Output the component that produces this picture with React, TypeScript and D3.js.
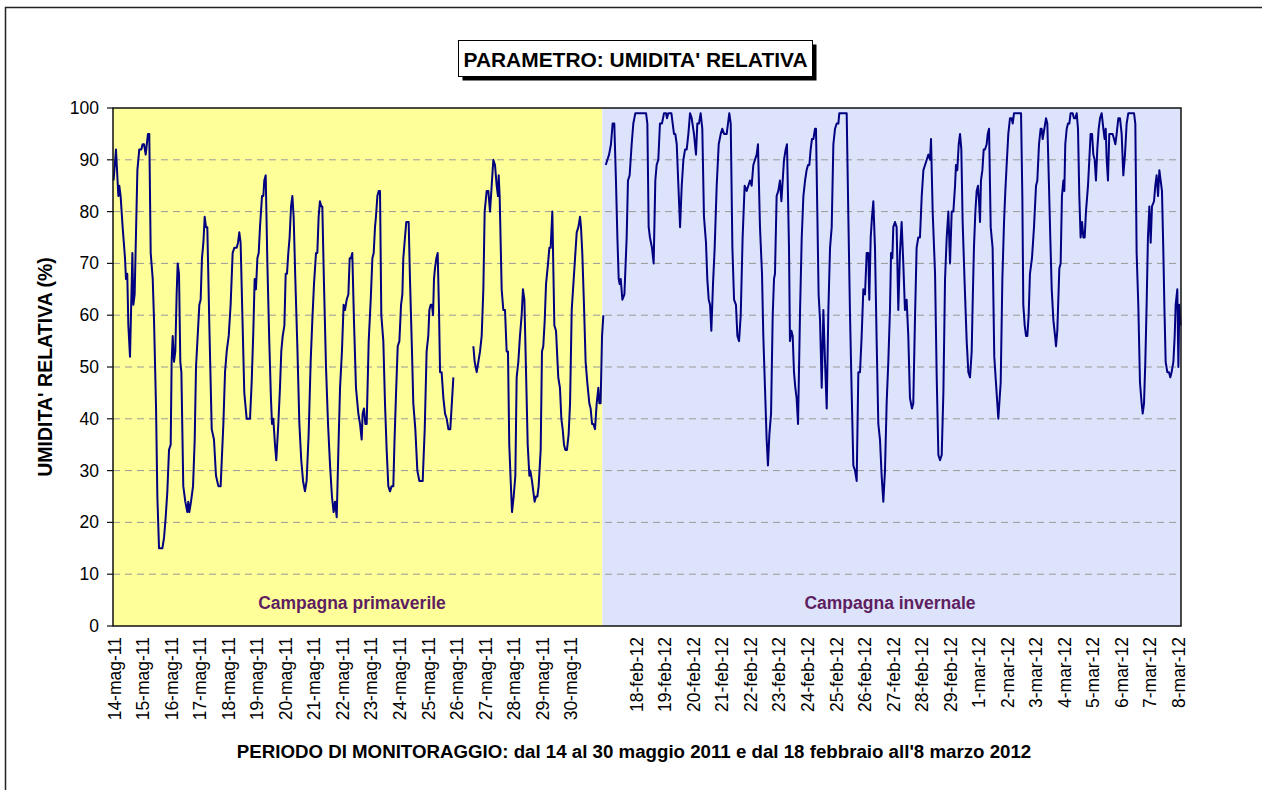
import React from 'react';
import * as d3 from 'd3';

// ---------- DATA ----------
const yTickValues = [0, 10, 20, 30, 40, 50, 60, 70, 80, 90, 100];

const springLabels = ['14-mag-11', '15-mag-11', '16-mag-11', '17-mag-11', '18-mag-11', '19-mag-11', '20-mag-11', '21-mag-11', '22-mag-11', '23-mag-11', '24-mag-11', '25-mag-11', '26-mag-11', '27-mag-11', '28-mag-11', '29-mag-11', '30-mag-11'];
const springLabelHours = [0, 24, 48, 72, 96, 120, 144, 168, 192, 216, 240, 264, 288, 312, 336, 360, 384];

const winterLabels = ['18-feb-12', '19-feb-12', '20-feb-12', '21-feb-12', '22-feb-12', '23-feb-12', '24-feb-12', '25-feb-12', '26-feb-12', '27-feb-12', '28-feb-12', '29-feb-12', '1-mar-12', '2-mar-12', '3-mar-12', '4-mar-12', '5-mar-12', '6-mar-12', '7-mar-12', '8-mar-12'];
const winterLabelHours = [439, 463, 487, 511, 535, 559, 583, 607, 631, 655, 679, 703, 727, 751, 775, 799, 823, 847, 871, 895];

const totalHours = 898;
const springEndHour = 411;

// [hour index, relative humidity %]; null = missing data
const springRH: [number, number | null][] = [
  [0,86],[2,92],[4,83],[4.8,85],[5.9,83],[7.6,77],[9.6,71],[10.4,67],[11.5,68],[12.4,58],[13.8,52],[15.8,72],[16.6,62],[17.7,64],[20,88],[21.6,92],[23.3,92],[24.4,93],[25.6,93],[27,91],[28.9,95],[30,95],[31.2,72],[32.9,67],[34,59],[35.7,42],[36.8,25],[38.2,15],[41,15],[42.4,17],[43.8,21],[45.2,26],[46.6,34],[48,35],[48.8,51],[49.7,56],[50.8,51],[51.9,53],[53,64],[53.9,70],[55,68],[56.1,51],[57,49],[58.6,27],[60.3,24],[62,22],[62.8,24],[63.7,22],[65.1,24],[66.8,27],[68.2,36],[69.3,50],[70.7,56],[72.1,62],[73.2,63],[74.3,71],[75.5,74],[76.6,79],[77.7,77],[78.8,77],[80.5,58],[82.5,38],[84.4,36],[86.1,29],[88.1,27],[90,27],[92.3,39],[93.7,49],[95.1,53],[96.8,56],[98.4,62],[100.1,72],[101.5,73],[103.5,73],[104.6,74],[105.7,76],[106.8,74],[108.5,58],[109.9,45],[111.9,40],[114.7,40],[116.1,47],[117.5,57],[118.6,67],[119.7,65],[120.9,71],[122,72],[123.1,77],[124.8,83],[125.9,83],[126.7,86],[127.9,87],[129.3,70],[130.9,55],[132.3,44],[133.2,39],[134.3,40],[135.7,35],[136.8,32],[138.5,39],[139.9,46],[141,53],[142.2,56],[143.6,58],[144.7,68],[145.8,68],[146.9,72],[148,75],[149.2,81],[150.3,83],[151.4,79],[152.8,67],[154.5,54],[156.2,39],[157.8,32],[159.3,28],[160.9,26],[162.3,28],[164,37],[165.7,51],[167.1,59],[168.5,66],[170.2,72],[171.3,72],[172.4,79],[173.5,82],[174.7,81],[175.5,81],[176.9,66],[178.6,50],[180.3,39],[182,31],[183.6,25],[185,22],[186.2,24],[187.6,21],[189,34],[190.4,46],[192,53],[193.4,62],[194.6,61],[196,63],[197.4,64],[198.5,71],[199.6,71],[200.7,72],[202.1,59],[203.8,46],[205.8,41],[207.2,39],[208.6,36],[209.4,41],[210.5,42],[211.7,39],[212.8,39],[214.5,55],[216.2,63],[217.6,71],[218.7,72],[219.8,77],[220.6,79],[221.8,83],[222.9,84],[224,84],[225.1,60],[226.8,55],[228.2,43],[229.6,34],[231,27],[232.4,26],[233.8,27],[235.2,27],[236.1,35],[237.5,45],[238.9,54],[240.3,55],[241.7,62],[242.8,64],[243.6,71],[245,75],[246.1,78],[248.1,78],[249.2,67],[250.9,53],[252,43],[253.7,38],[255.4,30],[257.1,28],[259.9,28],[261.6,38],[263.2,53],[264.6,56],[265.5,61],[266.6,62],[267.7,62],[268.6,60],[269.4,67],[270.2,69],[271.4,71],[272.5,72],[273.6,61],[274.5,49],[275.8,49],[277.3,44],[278.7,41],[280.1,40],[281.5,38],[283.1,38],[285.7,48],
  [294,null],
  [302.5,54],[303.6,51],[305.3,49],[306.7,51],[308.1,53],[309.5,56],[310.9,65],[312,80],[313.7,84],[315.1,84],[316.5,80],[317.9,85],[319.3,90],[320.7,89],[322.1,85],[323.2,83],[323.8,87],[324.6,83],[326.3,65],[327.7,61],[329.1,61],[330.5,53],[331.6,53],[332.7,35],[333.9,28],[335,22],[336.4,25],[337.8,29],[338.9,48],[340.3,51],[341.7,56],[343.1,60],[344.2,65],[345.4,63],[346.8,49],[348.2,35],[349.6,29],[350.4,30],[351.8,28],[352.9,26],[354,24],[355.2,25],[356.3,25],[357.4,27],[359.1,34],[360.2,53],[361.3,54],[362.5,59],[363.6,66],[365.3,70],[366.4,73],[367.5,73],[368.9,80],[370.6,58],[372,57],[373.9,48],[375.3,46],[376.5,40],[377.6,38],[378.7,35],[379.8,34],[381.2,34],[382.6,37],[383.8,43],[385.2,61],[386.6,66],[388,71],[389.4,76],[390.8,77],[392.2,79],[393,77],[394.1,72],[395.5,62],[396.9,51],[398.3,47],[400,43],[401.1,42],[402.3,39],[403.4,39],[404.8,38],[406.2,43],[407.6,46],[408.4,43],[409.5,43],[410.7,56],[411.8,60]
];

const winterRH: [number, number][] = [
  [413.8,89],[415.2,90],[416.6,91],[418.2,93],[419.6,97],[421,97],[422.4,86],[423.6,75],[424.7,67],[425.5,66],[426.4,67],[427.8,63],[429.5,64],[431.4,75],[432.5,86],[433.9,87],[435.6,93],[437,97],[438.7,99],[447.7,99],[448.8,97],[449.9,77],[451,75],[452.7,73],[454.1,70],[455.5,86],[456.6,89],[458,90],[459.4,97],[461.1,97],[462.8,99],[464.5,99],[465.3,98],[466.4,99],[469,99],[470.1,97],[471.2,95],[472.3,95],[473.5,93],[474.9,85],[476.3,77],[477.7,85],[479.1,90],[480.5,92],[481.9,92],[483.3,95],[484.7,99],[486.1,98],[488,95],[489.7,91],[490.8,97],[492.2,97],[493.6,99],[495,96],[496.4,79],[498.1,74],[499.2,67],[500.4,63],[501.5,62],[502.6,57],[504,66],[505.4,73],[507.1,85],[508.8,93],[510.5,95],[511.8,96],[513.3,95],[515.5,95],[516.6,97],[517.7,99],[518.9,97],[520.3,73],[521.7,63],[523.3,62],[524.5,56],[525.9,55],[527.3,60],[528.9,75],[530.6,85],[532.3,84],[533.7,85],[535.1,86],[536.5,85],[537.9,89],[539.3,90],[540.7,91],[541.8,93],[543.5,77],[545.2,68],[546.3,56],[547.7,46],[549.1,36],[550.2,31],[551.4,37],[552.8,41],[554.2,60],[555.3,67],[556.1,68],[557.5,83],[558.9,84],[560.3,86],[561.5,82],[562.6,86],[563.7,90],[565.1,92],[566.2,93],[567.9,73],[568.7,55],[569.9,57],[571,56],[572.1,49],[573.2,46],[574.3,44],[575.5,39],[577.2,61],[578.6,75],[580,83],[581.4,86],[582.7,88],[583.9,89],[585,89],[586.1,92],[587.2,94],[588.4,94],[589.8,96],[590.6,96],
  [591.7,80],[592.8,64],[594,59],[595.4,46],[596.8,61],[598.2,51],[599.6,42],[601,61],[602.4,73],[603.8,77],[605.2,93],[606.6,96],[608,97],[609.4,97],[610.2,99],[616.4,99],[617.8,79],[619.2,60],[620.6,45],[622,31],[623.4,30],[624.8,28],[626.2,49],[627.6,49],[629,56],[630.4,65],[631.8,64],[633.2,72],[634.6,72],[635.4,63],[636.6,75],[637.7,79],[638.8,82],[640.2,73],[641.6,55],[643,39],[644.4,36],[645.8,29],[647.2,24],[648.6,30],[650,43],[651.4,51],[652.8,61],[653.7,72],[654.8,71],[655.6,77],[657,78],[658.4,77],[659.8,61],[661.2,72],[662.6,78],[664,70],[665.4,61],[666.8,63],[668.2,56],[669.6,44],[671.3,42],[672.4,43],[673.8,59],[675.2,73],[676.6,75],[678,75],[679.5,83],[680.9,88],[682.3,89],[683.7,90],[685.1,91],[686.5,90],[687.3,94],[688.7,80],[690.7,68],[692.1,48],[693.5,33],[694.9,32],[696.3,33],[697.7,45],[699.1,67],[700.5,75],[701.9,80],[703.3,70],[704.7,80],[706.1,80],[707.5,85],[708.3,89],[709.4,88],[710.6,93],[711.7,95],[712.8,92],[713.9,78],[715.6,66],[717.3,55],[718.7,49],[720.1,48],[721.5,53],[722.3,62],[723.4,73],[724.6,80],[725.7,84],[726.8,85],[727.7,82],[728.5,78],[729.3,86],[730.5,88],[731.6,92],[732.7,92],[734.1,93],[735,95],[736.1,96],[737.5,77],[739.1,73],[740.5,52],[741.9,47],[743.9,40],[745.9,47],[747.3,67],[748.7,78],[749.8,84],[750.9,89],[752.3,95],[753.7,98],[755.1,98],[756,97],[757.1,99],[763,99],[764.1,83],[764.9,62],[766.1,58],[767.2,56],[768.3,56],[769.4,60],[770.5,68],[772.2,71],[773.9,77],[775.6,85],[776.7,86],[778.1,93],[779.5,96],[780.3,96],[781.2,94],[782.6,96],[784,98],[785.1,97],[786.5,85],[787.6,75],[788.8,65],[790.2,59],[791.6,56],[792.4,54],[793.5,57],[795.2,69],[796.3,70],[797.4,83],[798.6,86],[799.4,84],[800.2,93],[801.4,96],[802.5,97],[803.6,97],[804.7,99],[806.4,99],[807.5,98],[808.7,98],[809.8,99],[810.9,96],[812,83],[813.1,75],[814.3,78],[815.4,75],[816.5,75],[817.6,80],[819.3,85],[820.4,90],[821.5,95],[822.7,95],[823.8,91],[824.9,90],[826,86],[827.1,92],[828.3,96],[829.4,98],[830.8,99],[832.2,96],[833.3,94],[834.2,96],[835,90],[836.1,86],[837.2,95],[838.4,95],[840,95],[841.2,94],[842.3,93],[843.4,95],[844.8,98],[846.2,98],[847.6,95],[849,87],[850.4,91],[851.8,97],[853.2,99],[858,99],[859.1,97],[860.2,72],[861.6,62],[863,47],[864.4,43],[865.3,41],[866.4,43],[867.5,51],[868.6,62],[869.7,75],[870.9,81],[872,74],[873.1,81],[874.8,82],[875.9,85],[877,87],[878.2,83],[879.3,88],[880.4,86],[881.5,84],[882.6,73],[883.5,62],[884.6,51],[886,49],[887.4,49],[888.5,48],[889.6,49],[891.1,51],[892.2,56],[893,62],[894.4,65],[895.3,50],[896.1,62],[897.2,58]
];

const chartTitle = "PARAMETRO: UMIDITA' RELATIVA";
const yAxisTitle = "UMIDITA' RELATIVA (%)";
const xAxisTitle = "PERIODO DI MONITORAGGIO: dal 14 al 30 maggio 2011 e dal 18 febbraio all'8 marzo 2012";
const springName = 'Campagna primaverile';
const winterName = 'Campagna invernale';

// ---------- LAYOUT ----------
const W = 1262;
const H = 790;
const plot = { left: 113, right: 1181, top: 108, bottom: 626 };
const FONT = "'Liberation Sans', Arial, Helvetica, sans-serif";

export default function App() {
  const x = d3.scaleLinear().domain([-0.5, totalHours - 0.5]).range([plot.left, plot.right]);
  const y = d3.scaleLinear().domain([0, 100]).range([plot.bottom, plot.top]);

  const line = d3
    .line<[number, number | null]>()
    .defined((d) => d[1] !== null)
    .x((d) => x(d[0]))
    .y((d) => y(d[1] as number));

  const boundaryX = x(springEndHour);

  return (
    <svg
      width={W}
      height={H}
      viewBox={`0 0 ${W} ${H}`}
      style={{ position: 'absolute', left: 0, top: 0, background: '#fff' }}
      fontFamily={FONT}
    >
      {/* outer chart frame */}
      <rect x={5.5} y={7.5} width={1400} height={900} fill="#fff" stroke="#222" strokeWidth={1.5} />

      {/* title box with shadow */}
      <rect x={462.5} y={44.5} width={354} height={36} fill="#000" />
      <rect x={458.5} y={40.5} width={354} height={36} fill="#fff" stroke="#000" strokeWidth={1} />
      <text
        x={635.5}
        y={59}
        textAnchor="middle"
        dominantBaseline="central"
        fontWeight="bold"
        fontSize={21}
        textLength={344}
        lengthAdjust="spacingAndGlyphs"
      >
        {chartTitle}
      </text>

      {/* campaign backgrounds */}
      <rect x={plot.left} y={plot.top} width={boundaryX - plot.left} height={plot.bottom - plot.top} fill="#FFFF99" />
      <rect x={boundaryX} y={plot.top} width={plot.right - boundaryX} height={plot.bottom - plot.top} fill="#DCE3FB" />

      {/* gridlines */}
      {yTickValues
        .filter((v) => v > 0 && v < 100)
        .map((v) => (
          <line
            key={`g${v}`}
            x1={plot.left}
            x2={plot.right}
            y1={y(v)}
            y2={y(v)}
            stroke="#9a9a9a"
            strokeWidth={1}
            strokeDasharray="7 5"
          />
        ))}

      {/* campaign names */}
      <text x={352} y={603} textAnchor="middle" dominantBaseline="central" fontWeight="bold" fontSize={17.5} fill="#5E1E60">
        {springName}
      </text>
      <text x={890} y={603} textAnchor="middle" dominantBaseline="central" fontWeight="bold" fontSize={17.5} fill="#5E1E60">
        {winterName}
      </text>

      {/* data lines */}
      <path d={line(springRH) || ''} fill="none" stroke="#000080" strokeWidth={2} strokeLinejoin="round" />
      <path d={line(winterRH as [number, number | null][]) || ''} fill="none" stroke="#000080" strokeWidth={2} strokeLinejoin="round" />

      {/* plot border */}
      <rect
        x={plot.left}
        y={plot.top}
        width={plot.right - plot.left}
        height={plot.bottom - plot.top}
        fill="none"
        stroke="#111"
        strokeWidth={1.5}
      />

      {/* y axis ticks + labels */}
      {yTickValues.map((v) => (
        <g key={`t${v}`}>
          <line x1={107} x2={plot.left} y1={y(v)} y2={y(v)} stroke="#111" strokeWidth={1.2} />
          <text x={99} y={y(v)} textAnchor="end" dominantBaseline="central" fontSize={17.5}>
            {v}
          </text>
        </g>
      ))}

      {/* x labels */}
      {springLabels.map((lab, k) => (
        <text
          key={lab}
          transform={`translate(${x(springLabelHours[k]) + 1},637) rotate(-90)`}
          textAnchor="end"
          dominantBaseline="central"
          fontSize={17.5}
        >
          {lab}
        </text>
      ))}
      {winterLabels.map((lab, k) => (
        <text
          key={lab}
          transform={`translate(${x(winterLabelHours[k]) + 1},637) rotate(-90)`}
          textAnchor="end"
          dominantBaseline="central"
          fontSize={17.5}
        >
          {lab}
        </text>
      ))}

      {/* axis titles */}
      <text
        transform={`translate(45,${(plot.top + plot.bottom) / 2}) rotate(-90)`}
        textAnchor="middle"
        dominantBaseline="central"
        fontWeight="bold"
        fontSize={19.5}
      >
        {yAxisTitle}
      </text>
      <text x={634} y={751} textAnchor="middle" dominantBaseline="central" fontWeight="bold" fontSize={18.7}>
        {xAxisTitle}
      </text>
    </svg>
  );
}
